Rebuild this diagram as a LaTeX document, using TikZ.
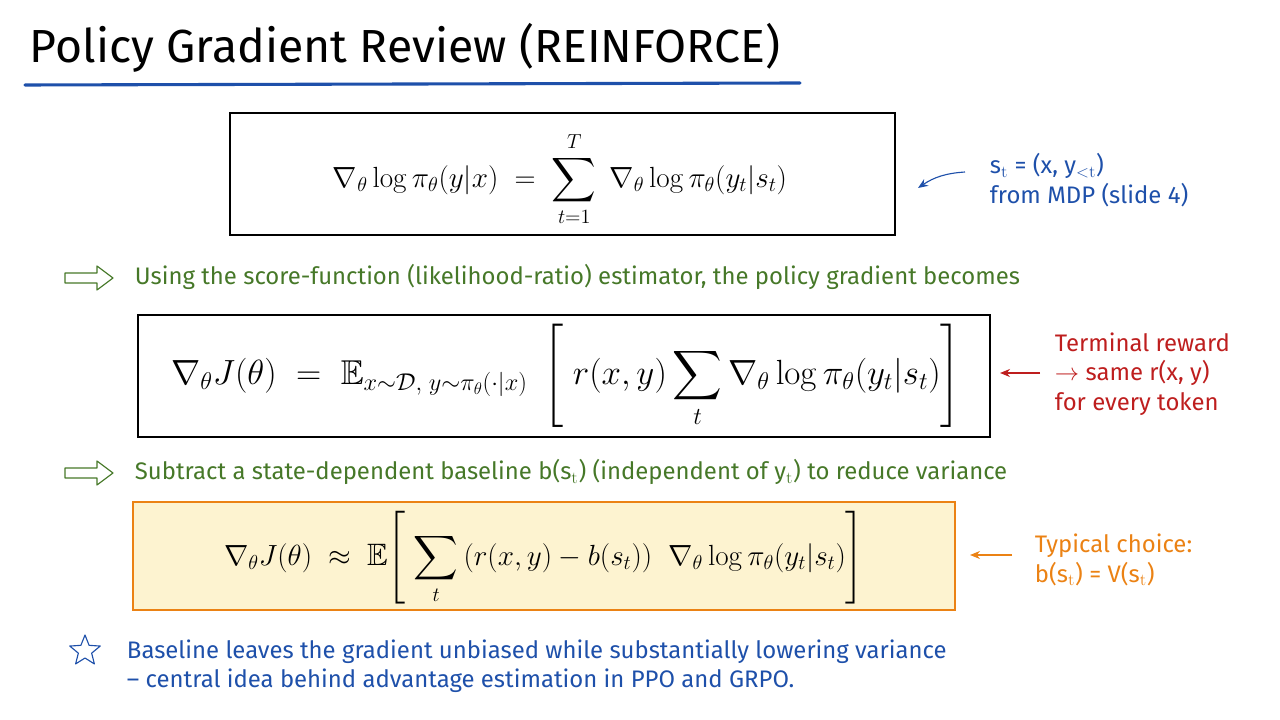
\documentclass[tikz,border=0pt]{standalone}
\usepackage{amssymb}
\usepackage{amsmath}
\usepackage[no-math]{fontspec}
\setmainfont{Fira Sans}
\usetikzlibrary{calc,arrows.meta,positioning}
\definecolor{ttlblue}{RGB}{30,80,170}
\definecolor{grn}{RGB}{70,120,40}
\definecolor{rd}{RGB}{190,30,30}
\definecolor{orng}{RGB}{235,130,20}
\definecolor{ylw}{RGB}{253,243,208}
\tikzset{
	eqbox/.style={draw=black,thick,inner sep=0pt},
	note/.style={align=left,anchor=west,font=\fontsize{17}{21}\selectfont},
	hollow/.style={draw=grn,thick,line join=round},
	pointer/.style={-{Stealth[length=2.5mm,width=2mm]},thick}
}
\begin{document}
\begin{tikzpicture}[x=0.025cm,y=-0.025cm]
	\useasboundingbox (0,0) rectangle (1280,720);
	
	%title
	\node[anchor=west,font=\fontsize{33}{40}\selectfont] (title) at (25,48) {Policy Gradient Review (REINFORCE)};
	\draw[ttlblue,line width=2.2pt,line cap=round] (25,85)--(800,83);
	
	%boxes
	\draw[eqbox] (230,113) rectangle (895,235);
	\node (eqa) at (560,179) {\fontsize{22}{26}\selectfont $\displaystyle \nabla_\theta \log \pi_\theta(y|x) \;=\; \sum_{t=1}^{T}\;\nabla_\theta \log \pi_\theta(y_t|s_t)$};
	\draw[eqbox] (138,315) rectangle (990,437);
	\node (eqb) at (566,376) {\fontsize{24.5}{30}\selectfont $\displaystyle \nabla_\theta J(\theta) \;=\; \mathbb{E}_{x\sim\mathcal{D},\; y\sim\pi_\theta(\cdot|x)}\;\left[\; r(x,y)\sum_{t}\nabla_\theta \log \pi_\theta(y_t|s_t)\right]$};
	\draw[eqbox,draw=orng,fill=ylw] (133,502) rectangle (955,610);
	\node (eqc) at (544,558) {\fontsize{22}{26}\selectfont $\displaystyle \nabla_\theta J(\theta) \;\approx\; \mathbb{E}\!\left[\;\sum_{t}\,(r(x,y)-b(s_t))\;\;\nabla_\theta \log \pi_\theta(y_t|s_t)\right]$};
	
	%side notes
	\node[note,ttlblue] (sdef) at (985,180) {s$_\mathrm{t}$ = (x, y$_{<\mathrm{t}}$)\\from MDP (slide 4)};
	\draw[pointer,ttlblue] (965,172) to[bend right=15] (918,188);
	\node[note,rd] (term) at (1050,374) {Terminal reward\\$\rightarrow$ same r(x, y)\\for every token};
	\draw[pointer,rd] (1040,373)--(1000,373);
	\node[note,orng] (typ) at (1030,560) {Typical choice:\\b(s$_\mathrm{t}$) = V(s$_\mathrm{t}$)};
	\draw[pointer,orng] (1012,555)--(970,555);
	
	%steps
	\foreach \yy in {278,473}
		\draw[hollow] (65,\yy-5)--(97,\yy-5)--(97,\yy-12)--(113,\yy)--(97,\yy+12)--(97,\yy+5)--(65,\yy+5)--cycle;
	\node[note,grn] (stepa) at (130,277) {Using the score-function (likelihood-ratio) estimator, the policy gradient becomes};
	\node[note,grn] (stepb) at (130,472) {Subtract a state-dependent baseline b(s$_\mathrm{t}$) (independent of y$_\mathrm{t}$) to reduce variance};
	
	%star note
	\draw[ttlblue,thick,line join=round] (85,635)
		\foreach \k in {1,...,9}{ -- ({85+(mod(\k,2)==0 ? 16 : 7)*sin(36*\k)},{651-(mod(\k,2)==0 ? 16 : 7)*cos(36*\k)}) } -- cycle;
	\node[note,ttlblue] (take) at (122,666) {Baseline leaves the gradient unbiased while substantially lowering variance\\– central idea behind advantage estimation in PPO and GRPO.};
\end{tikzpicture}
\end{document}
